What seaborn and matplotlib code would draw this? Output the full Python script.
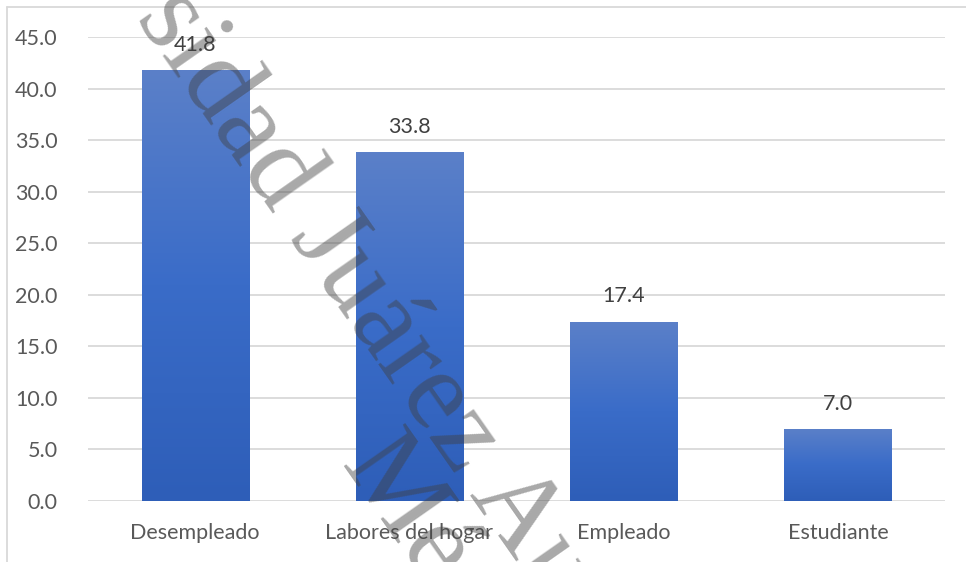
import numpy as np
import pandas as pd
import matplotlib
matplotlib.use("Agg")
import matplotlib.pyplot as plt
import seaborn as sns
from matplotlib.lines import Line2D
from matplotlib.colors import LinearSegmentedColormap

categories = ["Desempleado", "Labores del hogar", "Empleado", "Estudiante"]
values = [41.8, 33.8, 17.4, 7.0]
yticks = [0, 5, 10, 15, 20, 25, 30, 35, 40, 45]

df = pd.DataFrame({"cat": categories, "val": values})

sns.set_theme(style="white")
plt.rcParams["font.family"] = ["Lato", "DejaVu Sans"]

W, H = 966, 562
fig = plt.figure(figsize=(W / 100, H / 100), dpi=100)
ax = fig.add_axes([88 / W, 1 - 501 / H, (945 - 88) / W, (501 - 37) / H])

sns.barplot(data=df, x="cat", y="val", color="#4472c4", width=0.5, ax=ax,
            saturation=1, edgecolor="none")

ax.set_xlim(-0.5, 3.5)
ax.set_ylim(0, 45)
ax.set_yticks(yticks)
ax.set_yticklabels([f"{v:.1f}" for v in yticks])
ax.set_xlabel("")
ax.set_ylabel("")
for s in ax.spines.values():
    s.set_visible(False)
ax.yaxis.grid(True, color="#d9d9d9", linewidth=1.3)
ax.set_axisbelow(True)
ax.tick_params(axis="both", length=0, labelsize=15.5, colors="#595959")
ax.tick_params(axis="y", pad=22)
ax.tick_params(axis="x", pad=16)

# gradient fill on bars
cmap = LinearSegmentedColormap.from_list("g", ["#2e5eb8", "#3a6cc8", "#5b80c9"])
grad = np.linspace(0, 1, 256).reshape(-1, 1)
for p in list(ax.patches):
    x0, y0 = p.get_x(), p.get_y()
    w, h = p.get_width(), p.get_height()
    im = ax.imshow(grad, cmap=cmap, origin="lower", aspect="auto",
                   extent=[x0, x0 + w, y0, y0 + h], zorder=p.get_zorder() + 0.1)
    im.set_clip_path(p)
    ax.annotate(f"{h:.1f}", (x0 + w / 2, h), xytext=(0, 11),
                textcoords="offset points", ha="center", va="bottom",
                fontsize=15.5, color="#404040")

# outer chart border (top and left)
fig.add_artist(Line2D([7 / W, 7 / W], [0, 1 - 7 / H], transform=fig.transFigure,
                      color="#d9d9d9", linewidth=1.3))
fig.add_artist(Line2D([7 / W, 1], [1 - 7 / H, 1 - 7 / H], transform=fig.transFigure,
                      color="#d9d9d9", linewidth=1.3))

# watermark (partly outside the picture, as in the reference)
fig.text(200 / W, 1 + 28 / H, "sidad Juárez Au", transform=fig.transFigure,
         rotation=-55, rotation_mode="anchor", ha="left", va="top",
         fontsize=82, family=["Liberation Serif"], color="#404040", alpha=0.45)
fig.text(405 / W, 1 - 420 / H, "Mé", transform=fig.transFigure,
         rotation=-55, rotation_mode="anchor", ha="left", va="top",
         fontsize=82, family=["Liberation Serif"], color="#404040", alpha=0.45)

fig.savefig("out.png", dpi=100)
